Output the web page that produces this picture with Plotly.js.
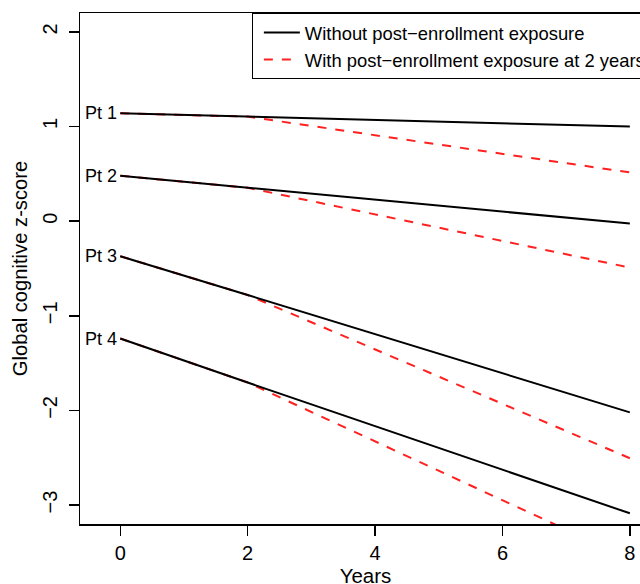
<!DOCTYPE html>
<html>
<head>
<meta charset="utf-8">
<script src="https://cdn.plot.ly/plotly-3.0.1.min.js"></script>
<style>
html, body { margin: 0; padding: 0; overflow: hidden; background: #fff; }
#chart { width: 680px; height: 600px; }
</style>
</head>
<body>
<div id="chart"></div>
<script>
// Data
const years = [0, 2, 8];
const patients = ["Pt 1", "Pt 2", "Pt 3", "Pt 4"];
const baseline = [1.14, 0.48, -0.37, -1.24];       // z-score at year 0
const withoutAt2 = [1.105, 0.353, -0.78, -1.705];  // z-score at year 2 (exposure time)
const withoutAt8 = [1.0, -0.025, -2.02, -3.087];   // without exposure, year 8
const withAt8 = [0.515, -0.49, -2.505, -3.57];     // with exposure at 2 years, year 8
const legendNames = ["Without post\u2212enrollment exposure", "With post\u2212enrollment exposure at 2 years"];
const xTicks = [0, 2, 4, 6, 8];
const yTicks = [-3, -2, -1, 0, 1, 2];

const FONT = "Liberation Sans, Arial, Helvetica, sans-serif";
const traces = [];
patients.forEach((p, i) => {
  traces.push({
    x: years, y: [baseline[i], withoutAt2[i], withAt8[i]],
    type: "scatter", mode: "lines",
    line: { color: "#ff2020", width: 2, dash: "9px,9px" },
    name: legendNames[1], legendgroup: "with", showlegend: i === 0, legendrank: 2,
    hoverinfo: "skip"
  });
});
patients.forEach((p, i) => {
  traces.push({
    x: years, y: [baseline[i], withoutAt2[i], withoutAt8[i]],
    type: "scatter", mode: "lines",
    line: { color: "#000000", width: 2 },
    name: legendNames[0], legendgroup: "without", showlegend: i === 0, legendrank: 1,
    hoverinfo: "skip"
  });
});

const annotations = patients.map((p, i) => ({
  x: 0, y: baseline[i], xref: "x", yref: "y",
  text: p, showarrow: false, xanchor: "right", yanchor: "middle",
  xshift: -1, font: { family: FONT, size: 18, color: "#000" }
}));

const layout = {
  width: 680, height: 600,
  margin: { l: 80, r: 29, t: 13, b: 76 },
  paper_bgcolor: "#fff", plot_bgcolor: "#fff",
  font: { family: FONT, color: "#000" },
  showlegend: true,
  legend: {
    x: 0.301, y: 1, xanchor: "left", yanchor: "top",
    bordercolor: "#000", borderwidth: 1, bgcolor: "#fff",
    font: { family: FONT, size: 18.4, color: "#000" },
    itemwidth: 36, indentation: 6, tracegroupgap: 0
  },
  xaxis: {
    range: [-0.632, 8.332], tickvals: xTicks, ticktext: xTicks.map(String),
    showgrid: false, zeroline: false,
    showline: true, mirror: true, linecolor: "#000", linewidth: 1.5,
    ticks: "outside", ticklen: 10, tickcolor: "#000", tickwidth: 1.5,
    tickfont: { family: FONT, size: 20, color: "#000" },
    title: { text: "Years", font: { family: FONT, size: 20.5, color: "#000" }, standoff: 6 }
  },
  yaxis: {
    range: [-3.2, 2.2], tickvals: yTicks,
    showgrid: false, zeroline: false,
    showline: true, mirror: true, linecolor: "#000", linewidth: 1.5,
    ticks: "outside", ticklen: 10, tickcolor: "#000", tickwidth: 1.5,
    tickangle: -90, ticklabelstandoff: 4,
    tickfont: { family: FONT, size: 20, color: "#000" },
    title: { text: "Global cognitive z-score", font: { family: FONT, size: 20.2, color: "#000" }, standoff: 5 }
  },
  annotations: annotations
};

Plotly.newPlot("chart", traces, layout, { displayModeBar: false, staticPlot: true });
</script>
</body>
</html>
